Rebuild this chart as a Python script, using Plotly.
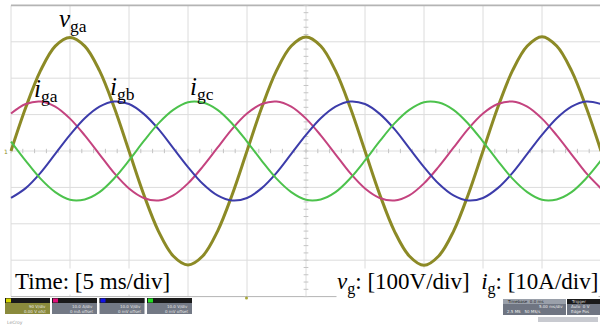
import plotly.graph_objects as go

W, H = 600, 325

# ---- sampled waveforms (time in ms, 1.25 ms step, 10 div x 5 ms/div) ----
t_ms = [0, 1.25, 2.5, 3.75, 5, 6.25, 7.5, 8.75, 10, 11.25, 12.5, 13.75,
        15, 16.25, 17.5, 18.75, 20, 21.25, 22.5, 23.75, 25, 26.25, 27.5,
        28.75, 30, 31.25, 32.5, 33.75, 35, 36.25, 37.5, 38.75, 40, 41.25,
        42.5, 43.75, 45, 46.25, 47.5, 48.75, 50]

v_ga = [0, 119.4, 220.6, 288.3, 312.0, 288.3, 220.6, 119.4,
        0, -119.4, -220.6, -288.3, -313.0, -288.3, -220.6, -119.4,
        0, 119.4, 220.6, 288.3, 313.0, 288.3, 220.6, 119.4,
        0, -119.4, -220.6, -288.3, -314.0, -288.3, -220.6, -119.4,
        0, 119.4, 220.6, 288.3, 314.0, 288.3, 220.6, 119.4, 0]

i_ga = [10.3, 12.9, 13.6, 12.2, 8.9, 4.3, -0.9, -6.1,
        -10.3, -12.9, -13.6, -12.2, -8.9, -4.3, 0.9, 6.1,
        10.3, 12.9, 13.6, 12.2, 8.9, 4.3, -0.9, -6.1,
        -10.3, -12.9, -13.6, -12.2, -8.9, -4.3, 0.9, 6.1,
        10.3, 12.9, 13.6, 12.2, 8.9, 4.3, -0.9, -6.1, -10.3]

i_gb = [-12.9, -10.2, -6.0, -0.8, 4.4, 9.0, 12.2, 13.6,
        12.9, 10.2, 6.0, 0.8, -4.4, -9.0, -12.2, -13.6,
        -12.9, -10.2, -6.0, -0.8, 4.4, 9.0, 12.2, 13.6,
        12.9, 10.2, 6.0, 0.8, -4.4, -9.0, -12.2, -13.6,
        -12.9, -10.2, -6.0, -0.8, 4.4, 9.0, 12.2, 13.6, 12.9]

i_gc = [2.6, -2.7, -7.6, -11.3, -13.4, -13.3, -11.3, -7.5,
        -2.6, 2.7, 7.6, 11.3, 13.4, 13.3, 11.3, 7.5,
        2.6, -2.7, -7.6, -11.3, -13.4, -13.3, -11.3, -7.5,
        -2.6, 2.7, 7.6, 11.3, 13.4, 13.3, 11.3, 7.5,
        2.6, -2.7, -7.6, -11.3, -13.4, -13.3, -11.3, -7.5, -2.6]

# scope scale settings
ms_per_div = 5
v_per_div = 100
a_per_div = 10
n_xdiv, n_ydiv = 10, 8

# ---- screen geometry (pixels) ----
x0_px = 11.0          # left edge of graticule
px_per_xdiv = 59.0
yc_px = 151.0         # centre line
px_per_ydiv = 36.4

ms_per_px = ms_per_div / px_per_xdiv
x_range = [-x0_px * ms_per_px, (W - x0_px) * ms_per_px]
div_top = yc_px / px_per_ydiv
div_bot = (H - yc_px) / px_per_ydiv
v_range = [-div_bot * v_per_div, div_top * v_per_div]
a_range = [-div_bot * a_per_div, div_top * a_per_div]

SERIF = "Times New Roman, Liberation Serif, serif"
SANS = "DejaVu Sans, sans-serif"

C_V = "#8c8a26"
C_A = "#c4437f"
C_B = "#3c3caa"
C_C = "#4cc24c"

fig = go.Figure()
fig.add_trace(go.Scatter(x=t_ms, y=i_ga, yaxis="y2", mode="lines",
                         line=dict(color=C_A, width=2.0, shape="spline"),
                         hoverinfo="skip"))
fig.add_trace(go.Scatter(x=t_ms, y=i_gb, yaxis="y2", mode="lines",
                         line=dict(color=C_B, width=2.0, shape="spline"),
                         hoverinfo="skip"))
fig.add_trace(go.Scatter(x=t_ms, y=i_gc, yaxis="y2", mode="lines",
                         line=dict(color=C_C, width=2.0, shape="spline"),
                         hoverinfo="skip"))
fig.add_trace(go.Scatter(x=t_ms, y=v_ga, yaxis="y", mode="lines",
                         line=dict(color=C_V, width=3.0, shape="spline"),
                         hoverinfo="skip"))

shapes = []
grid_col = "#dcdcdc"
t_end = n_xdiv * ms_per_div
v_half = n_ydiv / 2 * v_per_div
# graticule
for k in range(n_xdiv + 1):
    shapes.append(dict(type="line", xref="x", yref="y", layer="below",
                       x0=k * ms_per_div, x1=k * ms_per_div,
                       y0=-v_half, y1=v_half,
                       line=dict(color=grid_col, width=1)))
for k in range(n_ydiv + 1):
    yv = -v_half + k * v_per_div
    col = "#b4b4b4" if k in (0, n_ydiv) else grid_col
    wid = 1.6 if k == n_ydiv else 1
    shapes.append(dict(type="line", xref="x", yref="y", layer="below",
                       x0=0, x1=t_end, y0=yv, y1=yv,
                       line=dict(color=col, width=wid)))
# minor ticks on the centre axes
for k in range(n_xdiv * 5 + 1):
    tx = k * ms_per_div / 5
    shapes.append(dict(type="line", xref="x", yref="y", layer="below",
                       x0=tx, x1=tx, y0=-6, y1=6,
                       line=dict(color="#c4c4c4", width=1)))
for k in range(n_ydiv * 5 + 1):
    vy = -v_half + k * v_per_div / 5
    shapes.append(dict(type="line", xref="x", yref="y", layer="below",
                       x0=25 - 0.2, x1=25 + 0.2, y0=vy, y1=vy,
                       line=dict(color="#c4c4c4", width=1)))


def px(x, y):
    return x / W, 1 - y / H


def rect(x0, y0, x1, y1, fill):
    a, b = px(x0, y0)
    c, d = px(x1, y1)
    shapes.append(dict(type="rect", xref="paper", yref="paper",
                       x0=a, x1=c, y0=d, y1=b, fillcolor=fill,
                       line=dict(width=0), layer="above"))


annotations = []


def label(x, y, text, size, color="black", xanchor="center",
          family=SERIF, bg=None):
    a, b = px(x, y)
    d = dict(xref="paper", yref="paper", x=a, y=b, text=text,
             showarrow=False, xanchor=xanchor, yanchor="middle",
             font=dict(family=family, size=size, color=color))
    if bg:
        d.update(bgcolor=bg, borderpad=0)
    annotations.append(d)


# channel boxes along the bottom
ch_cols = ["#d8d800", "#e0107a", "#1010e8", "#20e020"]
ch_text = [("90 V/div", "0.00 V ofst"), ("10.0 A/div", "0 mA offset"),
           ("10.0 V/div", "0 mV offset"), ("10.0 V/div", "0 mV offset")]
for i, xs in enumerate([5, 52, 99.5, 147]):
    body = "#8a8a3c" if i == 0 else "#737985"
    rect(xs, 298, xs + 45, 314, body)
    rect(xs, 298, xs + 45, 303, "#1a1a1a")
    rect(xs + 1, 298.5, xs + 6, 302.5, ch_cols[i])
    label(xs + 43, 306.3, ch_text[i][0], 4, "#e8e8e8", "right", SANS)
    label(xs + 43, 311.2, ch_text[i][1], 4, "#e8e8e8", "right", SANS)

# timebase / trigger boxes
rect(503, 299, 566, 315, "#6f7582")
rect(567, 299, 600, 315, "#6f7582")
rect(503, 299, 566, 304, "#9aa0aa")
rect(567, 299, 600, 304, "#1a1a1a")
rect(538, 317, 598, 322, "#c8cad0")
label(505, 301.4, "Timebase  0.0 ms", 4, "#222222", "left", SANS)
label(569, 301.4, "Trigger", 4, "#dddddd", "left", SANS)
label(565, 306.6, "5.00 ms/div", 4, "#eeeeee", "right", SANS)
label(569, 306.6, "Auto  0 V", 4, "#eeeeee", "left", SANS)
label(505, 311.8, "2.5 MS   50 MS/s", 4, "#eeeeee", "left", SANS)
label(569, 311.8, "Edge Pos", 4, "#eeeeee", "left", SANS)
label(5, 322, "LeCroy", 4.5, "#999999", "left", SANS)

# channel-1 ground marker and trigger marker
label(6, 151, "1", 6, C_V, "center", SANS)
fig.add_trace(go.Scatter(x=[(246.5 - x0_px) * ms_per_px],
                         y=[-(298 - yc_px) / px_per_ydiv * v_per_div],
                         mode="markers", yaxis="y",
                         marker=dict(color="#a8a83a", size=3),
                         hoverinfo="skip", cliponaxis=False))

# waveform labels
label(73, 20, "<i>v</i><sub>ga</sub>", 25)
label(46, 90, "<i>i</i><sub>ga</sub>", 25)
label(123, 88, "<i>i</i><sub>gb</sub>", 25)
label(202, 88, "<i>i</i><sub>gc</sub>", 25)

# scale captions
label(14, 281, "Time: [5 ms/div]", 23, xanchor="left", bg="white")
label(599, 283,
      "<i>v</i><sub>g</sub>: [100V/div]\u00a0\u00a0<i>i</i><sub>g</sub>: [10A/div]",
      23, xanchor="right", bg="white")

fig.update_layout(
    width=W, height=H, autosize=False,
    margin=dict(l=0, r=0, t=0, b=0, pad=0),
    paper_bgcolor="white", plot_bgcolor="white",
    showlegend=False,
    xaxis=dict(range=x_range, visible=False, fixedrange=True),
    yaxis=dict(range=v_range, visible=False, fixedrange=True),
    yaxis2=dict(range=a_range, visible=False, overlaying="y",
                fixedrange=True),
    shapes=shapes,
    annotations=annotations,
)

fig.write_html("out.html")
